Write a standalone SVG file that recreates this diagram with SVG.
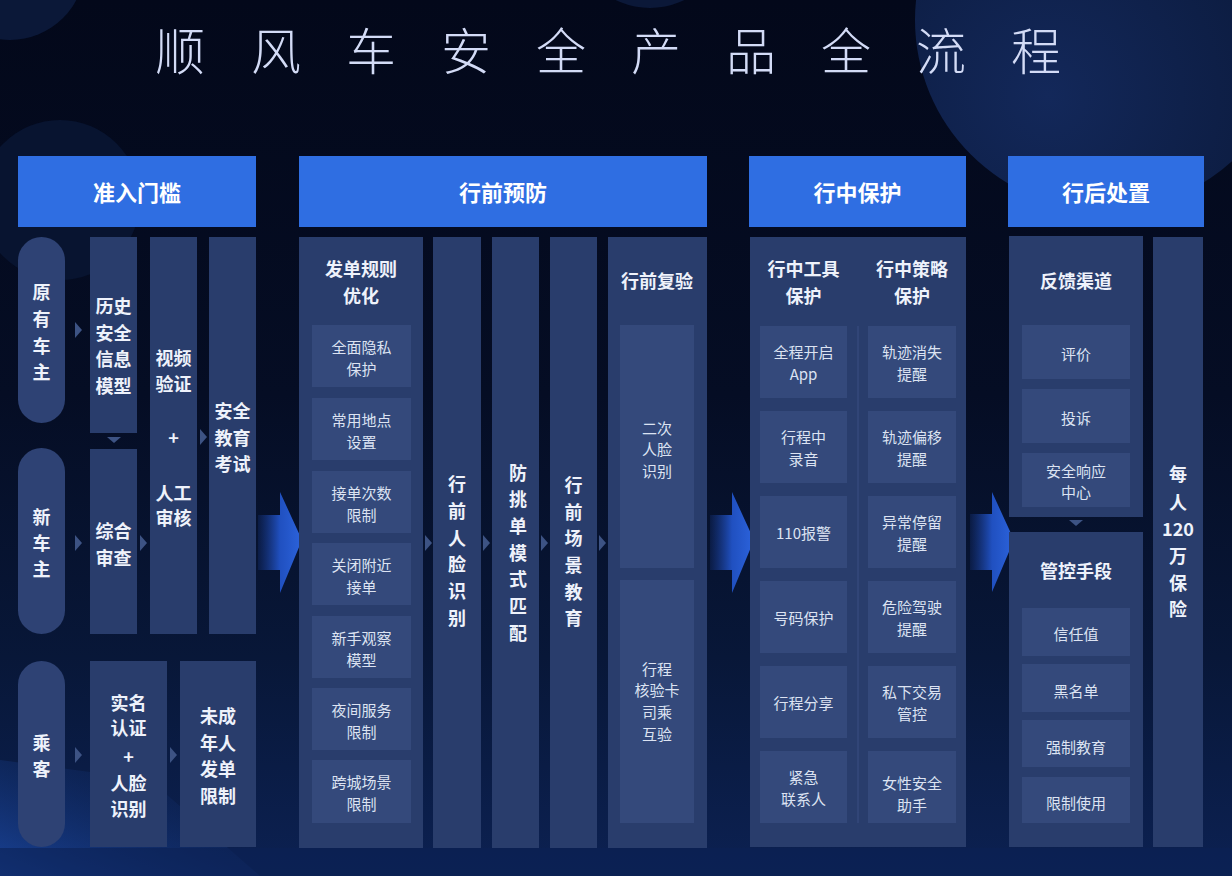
<svg xmlns="http://www.w3.org/2000/svg" width="1232" height="876" viewBox="0 0 1232 876">
<defs>
<linearGradient id="bg" x1="0" y1="0" x2="0" y2="1">
<stop offset="0" stop-color="#03081a"/>
<stop offset="0.45" stop-color="#050d24"/>
<stop offset="0.75" stop-color="#081738"/>
<stop offset="1" stop-color="#0c2152"/>
</linearGradient>
<radialGradient id="circ" cx="0.35" cy="0.7" r="0.8">
<stop offset="0" stop-color="#13285a"/>
<stop offset="1" stop-color="#0a1838"/>
</radialGradient>
<linearGradient id="glow" x1="0" y1="1" x2="1" y2="0">
<stop offset="0" stop-color="#1d4ba8"/>
<stop offset="1" stop-color="#0c2150" stop-opacity="0"/>
</linearGradient>
<linearGradient id="arr" x1="0" y1="0" x2="1" y2="0">
<stop offset="0" stop-color="#1a3f9a" stop-opacity="0.2"/>
<stop offset="0.5" stop-color="#2050c0"/>
<stop offset="1" stop-color="#2c63dc"/>
</linearGradient>
<style>
.hdr{fill:#2f6ee2}
.col{fill:#293d6c}
.pill{fill:#2e4274}
.sub{fill:#34497b}
.ht{font-family:"Noto Sans CJK SC",sans-serif;font-size:22px;font-weight:700;fill:#ffffff;text-anchor:middle;dominant-baseline:central}
.ct{font-family:"Noto Sans CJK SC",sans-serif;font-size:18px;font-weight:700;fill:#eef2fb;text-anchor:middle;dominant-baseline:central}
.st{font-family:"Noto Sans CJK SC",sans-serif;font-size:15px;font-weight:400;fill:#dce3f2;text-anchor:middle;dominant-baseline:central}
.tt{font-family:"Noto Sans CJK SC",sans-serif;font-size:50px;font-weight:300;fill:#d3dbf6;text-anchor:middle;dominant-baseline:central}
.sa{fill:#3d5384}
.ba{fill:url(#arr)}
</style>
</defs>
<rect width="1232" height="876" fill="url(#bg)"/>
<circle cx="1105" cy="20" r="190" fill="url(#circ)"/>
<circle cx="10" cy="-35" r="75" fill="#0b1838"/>
<circle cx="650" cy="-70" r="78" fill="#0b1838"/>
<circle cx="60" cy="200" r="80" fill="#081430"/>
<polygon points="0,760 150,780 260,876 0,876" fill="url(#glow)" opacity="0.8"/>
<rect x="0" y="848" width="1232" height="28" fill="#0c2255" opacity="0.6"/>

<text class="tt" x="180 276 371 466 561 656 751 846 941 1036" y="48">顺风车安全产品全流程</text>

<g id="connectors">
<polygon class="ba" points="258,515 280,515 280,492 302,540 280,593 280,570 258,570"/>
<polygon class="ba" points="710,515 732,515 732,492 754,540 732,593 732,570 710,570"/>
<polygon class="ba" points="970,514 992,514 992,492 1014,540 992,592 992,570 970,570"/>
<polygon class="sa" points="75,322 82,330 75,338"/>
<polygon class="sa" points="75,535 82,543 75,551"/>
<polygon class="sa" points="140,535 147,543 140,551"/>
<polygon class="sa" points="200,429 207,437 200,445"/>
<polygon class="sa" points="75,747 82,755 75,763"/>
<polygon class="sa" points="170,747 177,755 170,763"/>
<polygon class="sa" points="107,437 121,437 114,443"/>
<polygon class="sa" points="425,535 432,543 425,551"/>
<polygon class="sa" points="483,535 490,543 483,551"/>
<polygon class="sa" points="541,535 548,543 541,551"/>
<polygon class="sa" points="599,535 606,543 599,551"/>
<polygon class="sa" points="1069,520 1083,520 1076,526"/>
</g>

<g id="stage-entry">
<rect class="hdr" x="18" y="156" width="238" height="71"/>
<text class="ht" x="137" y="191">准入门槛</text>
</g>
<g id="pill-old-driver">
<rect class="pill" x="18" y="237" width="47" height="186" rx="23.5"/>
<text class="ct" x="41.5" y="291">原</text><text class="ct" x="41.5" y="318">有</text><text class="ct" x="41.5" y="345">车</text><text class="ct" x="41.5" y="371">主</text>
</g>
<g id="box-history">
<rect class="col" x="90" y="237" width="47" height="196"/>
<text class="ct" x="113.5" y="305">历史</text><text class="ct" x="113.5" y="332">安全</text><text class="ct" x="113.5" y="358">信息</text><text class="ct" x="113.5" y="385">模型</text>
</g>
<g id="box-video">
<rect class="col" x="150" y="237" width="47" height="397"/>
<text class="ct" x="173.5" y="357">视频</text><text class="ct" x="173.5" y="383">验证</text><text class="ct" x="173.5" y="437">+</text><text class="ct" x="173.5" y="492">人工</text><text class="ct" x="173.5" y="517">审核</text>
</g>
<g id="box-exam">
<rect class="col" x="209" y="237" width="47" height="397"/>
<text class="ct" x="232.5" y="410">安全</text><text class="ct" x="232.5" y="437">教育</text><text class="ct" x="232.5" y="463">考试</text>
</g>
<g id="pill-new-driver">
<rect class="pill" x="18" y="448" width="47" height="186" rx="23.5"/>
<text class="ct" x="41.5" y="516">新</text><text class="ct" x="41.5" y="542">车</text><text class="ct" x="41.5" y="568">主</text>
</g>
<g id="box-review">
<rect class="col" x="90" y="449" width="47" height="185"/>
<text class="ct" x="113.5" y="530">综合</text><text class="ct" x="113.5" y="557">审查</text>
</g>
<g id="pill-passenger">
<rect class="pill" x="18" y="661" width="47" height="186" rx="23.5"/>
<text class="ct" x="41.5" y="742">乘</text><text class="ct" x="41.5" y="768">客</text>
</g>
<g id="box-realname">
<rect class="col" x="90" y="661" width="77" height="186"/>
<text class="ct" x="128.5" y="702">实名</text><text class="ct" x="128.5" y="727">认证</text><text class="ct" x="128.5" y="756">+</text><text class="ct" x="128.5" y="782">人脸</text><text class="ct" x="128.5" y="808">识别</text>
</g>
<g id="box-minor">
<rect class="col" x="180" y="661" width="76" height="186"/>
<text class="ct" x="218" y="715">未成</text><text class="ct" x="218" y="742">年人</text><text class="ct" x="218" y="768">发单</text><text class="ct" x="218" y="795">限制</text>
</g>

<g id="stage-pre">
<rect class="hdr" x="299" y="156" width="408" height="71"/>
<text class="ht" x="503" y="191">行前预防</text>
</g>
<g id="col-rules">
<rect class="col" x="299" y="237" width="124" height="611"/>
<text class="ct" x="361" y="268">发单规则</text><text class="ct" x="361" y="295">优化</text>
<rect class="sub" x="312" y="325" width="99" height="62"/><text class="st" x="361.5" y="346">全面隐私</text><text class="st" x="361.5" y="368">保护</text>
<rect class="sub" x="312" y="398" width="99" height="62"/><text class="st" x="361.5" y="419">常用地点</text><text class="st" x="361.5" y="441">设置</text>
<rect class="sub" x="312" y="471" width="99" height="62"/><text class="st" x="361.5" y="492">接单次数</text><text class="st" x="361.5" y="514">限制</text>
<rect class="sub" x="312" y="543" width="99" height="62"/><text class="st" x="361.5" y="564">关闭附近</text><text class="st" x="361.5" y="586">接单</text>
<rect class="sub" x="312" y="616" width="99" height="62"/><text class="st" x="361.5" y="637">新手观察</text><text class="st" x="361.5" y="659">模型</text>
<rect class="sub" x="312" y="688" width="99" height="62"/><text class="st" x="361.5" y="709">夜间服务</text><text class="st" x="361.5" y="731">限制</text>
<rect class="sub" x="312" y="760" width="99" height="63"/><text class="st" x="361.5" y="781">跨城场景</text><text class="st" x="361.5" y="803">限制</text>
</g>
<g id="col-face">
<rect class="col" x="433" y="237" width="48" height="611"/>
<text class="ct" x="457" y="483">行</text><text class="ct" x="457" y="510">前</text><text class="ct" x="457" y="537">人</text><text class="ct" x="457" y="563">脸</text><text class="ct" x="457" y="590">识</text><text class="ct" x="457" y="617">别</text>
</g>
<g id="col-antipick">
<rect class="col" x="492" y="237" width="47" height="611"/>
<text class="ct" x="518" y="472">防</text><text class="ct" x="518" y="498">挑</text><text class="ct" x="518" y="525">单</text><text class="ct" x="518" y="552">模</text><text class="ct" x="518" y="578">式</text><text class="ct" x="518" y="605">匹</text><text class="ct" x="518" y="632">配</text>
</g>
<g id="col-scene">
<rect class="col" x="550" y="237" width="47" height="611"/>
<text class="ct" x="573.5" y="484">行</text><text class="ct" x="573.5" y="511">前</text><text class="ct" x="573.5" y="537">场</text><text class="ct" x="573.5" y="564">景</text><text class="ct" x="573.5" y="591">教</text><text class="ct" x="573.5" y="617">育</text>
</g>
<g id="col-recheck">
<rect class="col" x="608" y="237" width="99" height="611"/>
<text class="ct" x="657" y="280">行前复验</text>
<rect class="sub" x="620" y="325" width="74" height="243"/>
<text class="st" x="657" y="427">二次</text><text class="st" x="657" y="448">人脸</text><text class="st" x="657" y="470">识别</text>
<rect class="sub" x="620" y="580" width="74" height="243"/>
<text class="st" x="657" y="668">行程</text><text class="st" x="657" y="689">核验卡</text><text class="st" x="657" y="711">司乘</text><text class="st" x="657" y="733">互验</text>
</g>

<g id="stage-during">
<rect class="hdr" x="749" y="156" width="217" height="71"/>
<text class="ht" x="857.5" y="191">行中保护</text>
</g>
<g id="col-during">
<rect class="col" x="750" y="237" width="216" height="610"/>
<line x1="858" y1="326" x2="858" y2="823" stroke="#34497b" stroke-width="1.5"/>
<text class="ct" x="803.5" y="268">行中工具</text><text class="ct" x="803.5" y="295">保护</text>
<text class="ct" x="912" y="268">行中策略</text><text class="ct" x="912" y="295">保护</text>
<rect class="sub" x="760" y="326" width="87" height="72"/><text class="st" x="803.5" y="351">全程开启</text><text class="st" x="803.5" y="373">App</text>
<rect class="sub" x="760" y="411" width="87" height="72"/><text class="st" x="803.5" y="436">行程中</text><text class="st" x="803.5" y="458">录音</text>
<rect class="sub" x="760" y="496" width="87" height="72"/><text class="st" x="803.5" y="532">110报警</text>
<rect class="sub" x="760" y="581" width="87" height="72"/><text class="st" x="803.5" y="617">号码保护</text>
<rect class="sub" x="760" y="666" width="87" height="72"/><text class="st" x="803.5" y="702">行程分享</text>
<rect class="sub" x="760" y="751" width="87" height="72"/><text class="st" x="803.5" y="776">紧急</text><text class="st" x="803.5" y="798">联系人</text>
<rect class="sub" x="868" y="326" width="88" height="72"/><text class="st" x="912" y="351">轨迹消失</text><text class="st" x="912" y="373">提醒</text>
<rect class="sub" x="868" y="411" width="88" height="72"/><text class="st" x="912" y="436">轨迹偏移</text><text class="st" x="912" y="458">提醒</text>
<rect class="sub" x="868" y="496" width="88" height="72"/><text class="st" x="912" y="521">异常停留</text><text class="st" x="912" y="543">提醒</text>
<rect class="sub" x="868" y="581" width="88" height="72"/><text class="st" x="912" y="606">危险驾驶</text><text class="st" x="912" y="628">提醒</text>
<rect class="sub" x="868" y="666" width="88" height="72"/><text class="st" x="912" y="691">私下交易</text><text class="st" x="912" y="713">管控</text>
<rect class="sub" x="868" y="751" width="88" height="72"/><text class="st" x="912" y="782">女性安全</text><text class="st" x="912" y="804">助手</text>
</g>

<g id="stage-after">
<rect class="hdr" x="1008" y="156" width="196" height="71"/>
<text class="ht" x="1106" y="191">行后处置</text>
</g>
<g id="col-feedback">
<rect class="col" x="1009" y="236" width="134" height="281"/>
<text class="ct" x="1076" y="280">反馈渠道</text>
<rect class="sub" x="1022" y="325" width="108" height="54"/><text class="st" x="1076" y="353">评价</text>
<rect class="sub" x="1022" y="389" width="108" height="54"/><text class="st" x="1076" y="417">投诉</text>
<rect class="sub" x="1022" y="453" width="108" height="54"/><text class="st" x="1076" y="470">安全响应</text><text class="st" x="1076" y="491">中心</text>
</g>
<g id="col-control">
<rect class="col" x="1009" y="532" width="134" height="315"/>
<text class="ct" x="1076" y="570">管控手段</text>
<rect class="sub" x="1022" y="608" width="108" height="48"/><text class="st" x="1076" y="633">信任值</text>
<rect class="sub" x="1022" y="664" width="108" height="48"/><text class="st" x="1076" y="690">黑名单</text>
<rect class="sub" x="1022" y="720" width="108" height="47"/><text class="st" x="1076" y="746">强制教育</text>
<rect class="sub" x="1022" y="777" width="108" height="46"/><text class="st" x="1076" y="802">限制使用</text>
</g>
<g id="col-insurance">
<rect class="col" x="1153" y="237" width="50" height="610"/>
<text class="ct" x="1178" y="473">每</text><text class="ct" x="1178" y="501">人</text><text class="ct" x="1178" y="528">120</text><text class="ct" x="1178" y="555">万</text><text class="ct" x="1178" y="582">保</text><text class="ct" x="1178" y="608">险</text>
</g>
</svg>
